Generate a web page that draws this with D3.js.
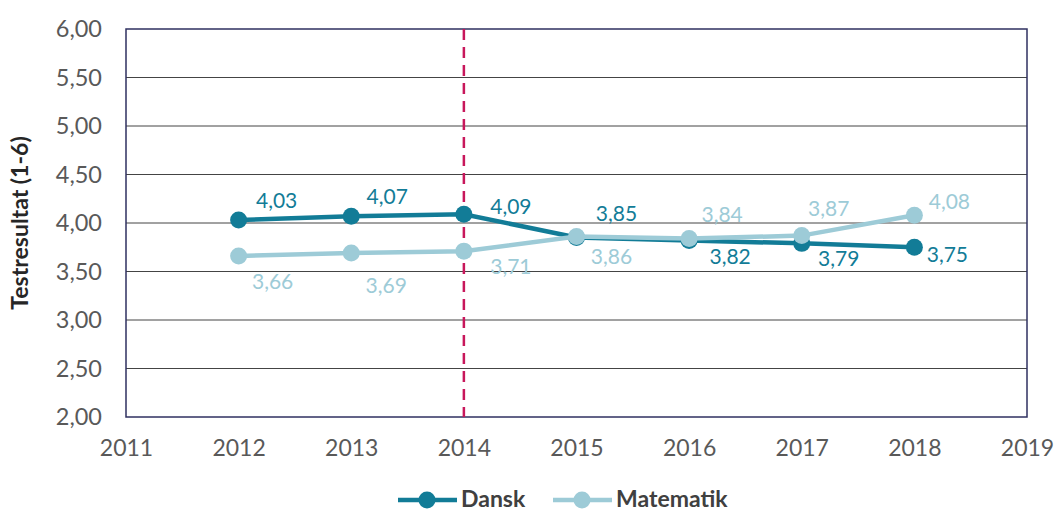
<!DOCTYPE html>
<html><head><meta charset="utf-8">
<script src="https://cdn.jsdelivr.net/npm/d3@7"></script>
<style>body{margin:0;background:#fff}svg{display:block;font-family:Lato,"Open Sans",sans-serif}</style>
</head><body><svg id="c" width="1056" height="515"></svg>
<script>
const years = [2012, 2013, 2014, 2015, 2016, 2017, 2018];
const dansk = [4.03, 4.07, 4.09, 3.85, 3.82, 3.79, 3.75];
const matematik = [3.66, 3.69, 3.71, 3.86, 3.84, 3.87, 4.08];
const xTicks = [2011, 2012, 2013, 2014, 2015, 2016, 2017, 2018, 2019];
const yTicks = [2.0, 2.5, 3.0, 3.5, 4.0, 4.5, 5.0, 5.5, 6.0];
const markerYear = 2014;
const yTitle = "Testresultat (1-6)";
// label offsets (dx, dy) relative to each point
const danskLabelOff = [[38,-21],[36,-21],[47,-9],[40,-25],[41,15],[37,14],[33,6]];
const matLabelOff = [[34,25],[35,31],[47,14],[35,19],[33,-25],[27,-28],[35,-15]];

const svg = d3.select("#c");
const x = d3.scaleLinear().domain([2011, 2019]).range([126, 1027]);
const y = d3.scaleLinear().domain([2, 6]).range([417, 29]);
const fmt = v => d3.format(".2f")(v).replace(".", ",");
const cD = "#127c97", cM = "#9dcbd7";

// gridlines
svg.append("g").selectAll("line").data(yTicks.filter(v => v > 2 && v < 6)).join("line")
  .attr("x1", x(2011)).attr("x2", x(2019)).attr("y1", d => y(d)).attr("y2", d => y(d))
  .attr("stroke", "#444").attr("stroke-width", 1);
// frame
svg.append("rect").attr("x", x(2011)).attr("y", y(6)).attr("width", x(2019) - x(2011)).attr("height", y(2) - y(6))
  .attr("fill", "none").attr("stroke", "#2f3160").attr("stroke-width", 1.5);

// y axis
const ya = d3.axisLeft(y).tickValues(yTicks).tickFormat(fmt).tickSize(0).tickPadding(24);
const gy = svg.append("g").attr("transform", `translate(${x(2011)},0)`).call(ya);
gy.select(".domain").remove();
gy.selectAll("text").attr("fill", "#595959").style("font-size", "23.5px").style("font-family", "Lato");

// x axis
const xa = d3.axisBottom(x).tickValues(xTicks).tickFormat(d3.format("d")).tickSize(0).tickPadding(23);
const gx = svg.append("g").attr("transform", `translate(0,${y(2)})`).call(xa);
gx.select(".domain").remove();
gx.selectAll("text").attr("fill", "#595959").style("font-size", "23px").style("font-family", "Lato");

// y title
svg.append("text").attr("transform", `translate(28,${(y(2)+y(6))/2}) rotate(-90)`)
  .attr("text-anchor", "middle").attr("fill", "#262626").style("font-size", "23px").style("font-weight", "bold")
  .text(yTitle);

// dashed marker line
svg.append("line").attr("x1", x(markerYear)).attr("x2", x(markerYear)).attr("y1", y(6)).attr("y2", y(2))
  .attr("stroke", "#c8175b").attr("stroke-width", 2.5).attr("stroke-dasharray", "11,7");

const line = d3.line().x(d => x(d[0])).y(d => y(d[1]));
function series(vals, color) {
  const pts = years.map((yr, i) => [yr, vals[i]]);
  svg.append("path").datum(pts).attr("d", line).attr("fill", "none").attr("stroke", color).attr("stroke-width", 4.5);
  svg.append("g").selectAll("circle").data(pts).join("circle")
    .attr("cx", d => x(d[0])).attr("cy", d => y(d[1])).attr("r", 8.5).attr("fill", color);
  return pts;
}
const pD = series(dansk, cD);
const pM = series(matematik, cM);
function labels(pts, color, offs) {
  svg.append("g").selectAll("text").data(pts).join("text")
    .attr("x", (d, i) => x(d[0]) + offs[i][0]).attr("y", (d, i) => y(d[1]) + offs[i][1])
    .attr("text-anchor", "middle").attr("dominant-baseline", "central")
    .attr("fill", color).style("font-size", "21px").text(d => fmt(d[1]));
}
labels(pD, cD, danskLabelOff);
labels(pM, cM, matLabelOff);

// legend
const leg = [{name: "Dansk", c: cD, x0: 398}, {name: "Matematik", c: cM, x0: 553}];
const ly = 500;
leg.forEach(l => {
  svg.append("line").attr("x1", l.x0).attr("x2", l.x0 + 59).attr("y1", ly).attr("y2", ly).attr("stroke", l.c).attr("stroke-width", 4.5);
  svg.append("circle").attr("cx", l.x0 + 29).attr("cy", ly).attr("r", 8.5).attr("fill", l.c);
  svg.append("text").attr("x", l.x0 + 63).attr("y", ly - 2).attr("dominant-baseline", "central")
    .attr("fill", "#404040").style("font-size", "23px").style("font-weight", "bold").text(l.name);
});
</script></body></html>
